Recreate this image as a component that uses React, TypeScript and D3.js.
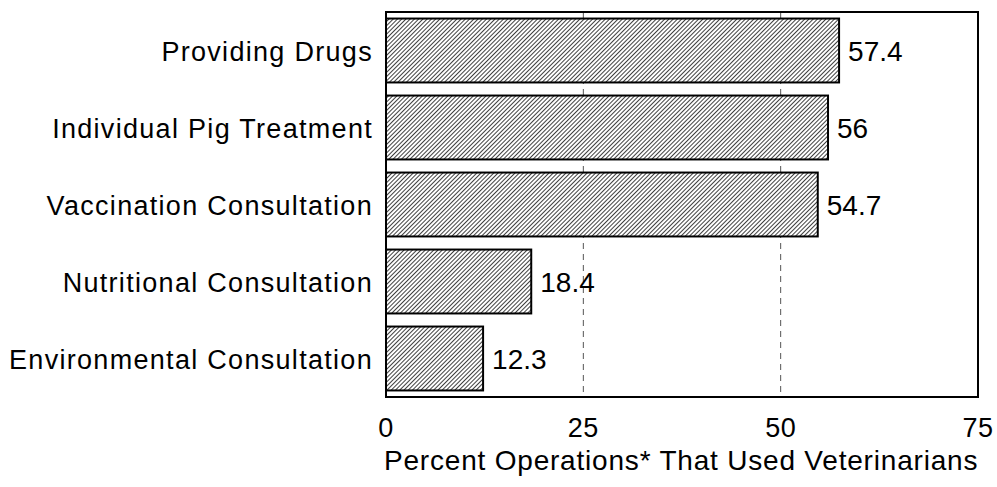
import React from "react";
import * as d3 from "d3";

const categories = [
  "Providing Drugs",
  "Individual Pig Treatment",
  "Vaccination Consultation",
  "Nutritional Consultation",
  "Environmental Consultation",
];
const values = [57.4, 56, 54.7, 18.4, 12.3];
const valueLabels = ["57.4", "56", "54.7", "18.4", "12.3"];
const ticks = [0, 25, 50, 75];
const gridTicks = [25, 50];
const xTitle = "Percent Operations* That Used Veterinarians";

const W = 997;
const H = 487;
const left = 386;
const right = 978;
const top = 12;
const bottom = 397;
const FONT = "'Liberation Sans', Arial, Helvetica, sans-serif";

export default function App() {
  const x = d3.scaleLinear().domain([0, 75]).range([left, right]);
  const y = d3
    .scaleBand<string>()
    .domain(categories)
    .range([top, bottom])
    .paddingInner(0.17)
    .paddingOuter(0.085);

  return (
    <svg
      width={W}
      height={H}
      style={{ position: "absolute", left: 0, top: 0, background: "#fff" }}
    >
      <defs>
        <pattern
          id="hatch"
          patternUnits="userSpaceOnUse"
          width={3}
          height={3}
          patternTransform="rotate(45)"
        >
          <rect width={3} height={3} fill="#fff" />
          <line x1={0} y1={0} x2={0} y2={3} stroke="#000" strokeWidth={1.5} />
        </pattern>
      </defs>
      <rect x={0} y={0} width={W} height={H} fill="#fff" />
      {gridTicks.map((t) => (
        <line
          key={t}
          x1={x(t)}
          x2={x(t)}
          y1={top}
          y2={bottom}
          stroke="#555"
          strokeWidth={1}
          strokeDasharray="6,5"
        />
      ))}
      {categories.map((c, i) => (
        <g key={c}>
          <rect
            x={x(0)}
            y={y(c)!}
            width={x(values[i]) - x(0)}
            height={y.bandwidth()}
            fill="url(#hatch)"
            stroke="#000"
            strokeWidth={2}
          />
          <text
            x={x(values[i]) + 9}
            y={y(c)! + y.bandwidth() / 2}
            dy="0.38em"
            fontFamily={FONT}
            fontSize={28}
            fill="#000"
          >
            {valueLabels[i]}
          </text>
          <text
            x={373}
            y={y(c)! + y.bandwidth() / 2}
            dy="0.38em"
            textAnchor="end"
            fontFamily={FONT}
            fontSize={27}
            letterSpacing={1.3}
            fill="#000"
          >
            {c}
          </text>
        </g>
      ))}
      <rect
        x={left}
        y={top}
        width={right - left}
        height={bottom - top}
        fill="none"
        stroke="#000"
        strokeWidth={2}
      />
      {ticks.map((t) => (
        <text
          key={t}
          x={x(t)}
          y={437}
          textAnchor="middle"
          fontFamily={FONT}
          fontSize={27}
          letterSpacing={0.5}
          fill="#000"
        >
          {t}
        </text>
      ))}
      <text
        x={384}
        y={470}
        textAnchor="start"
        fontFamily={FONT}
        fontSize={28}
        letterSpacing={0.8}
        fill="#000"
      >
        {xTitle}
      </text>
    </svg>
  );
}
